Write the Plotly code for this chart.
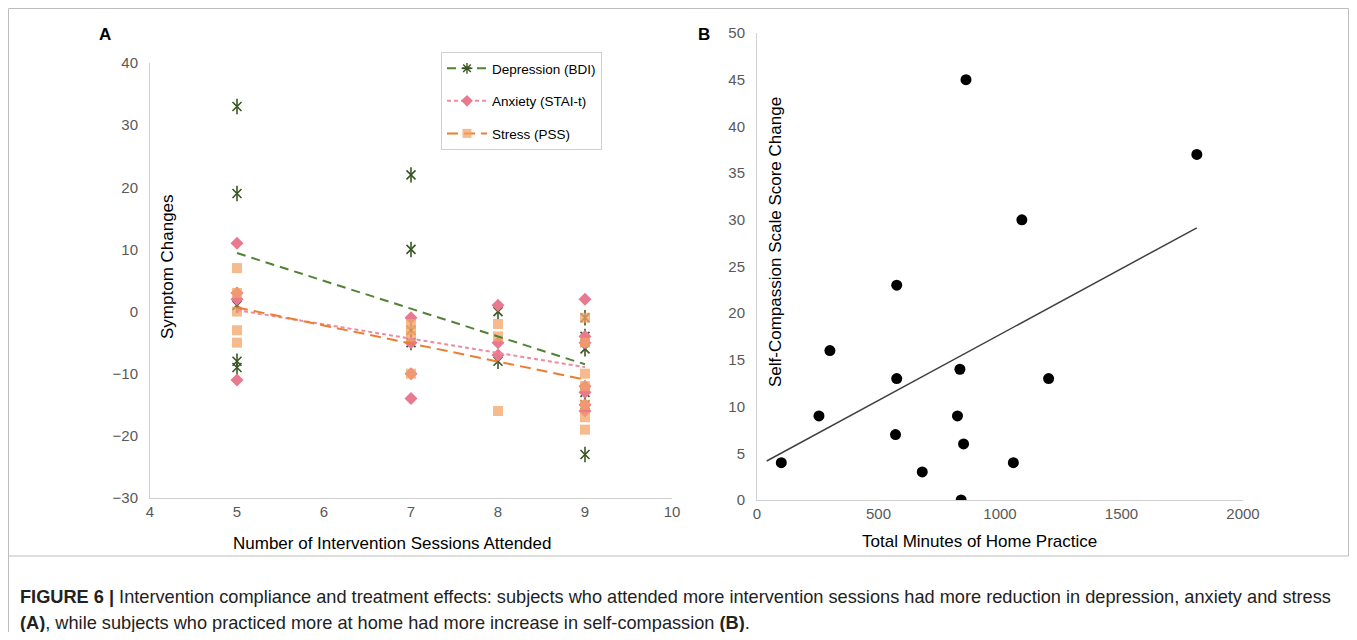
import numpy as np
import plotly.graph_objects as go

# ---------------- data ----------------
dep_sessions = [5, 5, 5, 5, 5, 7, 7, 7, 7, 8, 8, 9, 9, 9, 9, 9, 9]
dep_values = [33, 19, 1, -8, -9, 22, 10, -3, -5, 0, -8, -1, -4, -6, -13, -15, -23]
anx_sessions = [5, 5, 5, 5, 7, 7, 7, 7, 8, 8, 8, 9, 9, 9, 9, 9, 9, 9]
anx_values = [11, 3, 2, -11, -1, -5, -10, -14, 1, -5, -7, 2, -4, -5, -12, -13, -15, -16]
str_sessions = [5, 5, 5, 5, 5, 7, 7, 7, 7, 8, 8, 8, 9, 9, 9, 9, 9, 9, 9]
str_values = [7, 3, 0, -3, -5, -2, -3, -4, -10, -2, -4, -16, -1, -5, -10, -12, -15, -17, -19]

minutes = [100, 255, 300, 575, 575, 570, 680, 825, 835, 850, 840, 1055, 1200, 860, 1090, 1810]
scs_change = [4, 9, 16, 23, 13, 7, 3, 9, 14, 6, 0, 4, 13, 45, 30, 37]
trend_b_start = 40

a_xticks = [4, 5, 6, 7, 8, 9, 10]
a_yticks = [-30, -20, -10, 0, 10, 20, 30, 40]
b_xticks = [0, 500, 1000, 1500, 2000]
b_yticks = [0, 5, 10, 15, 20, 25, 30, 35, 40, 45, 50]

# page is 1357x640 with the default 8px body margin -> figure 1341x624 offset by 8
OFF = 8
W, H = 1357 - 2 * OFF, 640 - 2 * OFF
def px(x):
    return (x - OFF) / W
def py(y):
    return 1 - (y - OFF) / H

FONT = "Liberation Sans, Arial, sans-serif"
GREEN_M = "#385723"
GREEN_L = "#548235"
PINK = "#E8798F"
PINK_L = "#F08AA0"
ORANGE_M = "rgba(243,163,102,0.75)"
ORANGE_L = "#ED7D31"

def fit_line(xs, ys, x0, x1):
    k, b = np.polyfit(np.array(xs, float), np.array(ys, float), 1)
    xx = np.array([x0, x1], float)
    return xx, k * xx + b

fig = go.Figure()

# ---- Panel A markers ----
fig.add_trace(go.Scatter(x=dep_sessions, y=dep_values, mode="markers", showlegend=False,
                         marker=dict(symbol="x-thin-open", size=9, color=GREEN_M,
                                     line=dict(width=1.6, color=GREEN_M))))
fig.add_trace(go.Scatter(x=dep_sessions, y=dep_values, mode="markers", showlegend=False,
                         marker=dict(symbol="line-ns-open", size=11, color=GREEN_M,
                                     line=dict(width=1.6, color=GREEN_M))))
fig.add_trace(go.Scatter(x=anx_sessions, y=anx_values, mode="markers", showlegend=False,
                         marker=dict(symbol="diamond", size=10, color=PINK)))
fig.add_trace(go.Scatter(x=str_sessions, y=str_values, mode="markers", showlegend=False,
                         marker=dict(symbol="square", size=10, color=ORANGE_M)))

# ---- Panel A trend lines (least-squares fits of the data) ----
for xs, ys, col, dash in [
    (dep_sessions, dep_values, GREEN_L, "9px,6px"),
    (anx_sessions, anx_values, PINK_L, "4px,3px"),
    (str_sessions, str_values, ORANGE_L, "11px,6px"),
]:
    lx, ly = fit_line(xs, ys, min(xs), max(xs))
    fig.add_trace(go.Scatter(x=lx, y=ly, mode="lines", showlegend=False,
                             line=dict(color=col, width=2, dash=dash), hoverinfo="skip"))

# ---- legend-only entries ----
fig.add_trace(go.Scatter(x=[None], y=[None], mode="lines+markers", name="Depression (BDI)",
                         legendgroup="d", line=dict(color=GREEN_L, width=2, dash="9px,6px"),
                         marker=dict(symbol="asterisk-open", size=9, color=GREEN_M,
                                     line=dict(width=1.4, color=GREEN_M))))
fig.add_trace(go.Scatter(x=[None], y=[None], mode="lines+markers", name="Anxiety (STAI-t)",
                         legendgroup="a", line=dict(color=PINK_L, width=2, dash="4px,3px"),
                         marker=dict(symbol="diamond", size=9, color=PINK)))
fig.add_trace(go.Scatter(x=[None], y=[None], mode="lines+markers", name="Stress (PSS)",
                         legendgroup="s", line=dict(color=ORANGE_L, width=2, dash="11px,6px"),
                         marker=dict(symbol="square", size=9, color=ORANGE_M)))

# ---- Panel B ----
fig.add_trace(go.Scatter(x=minutes, y=scs_change, mode="markers", showlegend=False,
                         marker=dict(symbol="circle", size=11, color="#000000"),
                         xaxis="x2", yaxis="y2"))
lx, ly = fit_line(minutes, scs_change, trend_b_start, max(minutes))
fig.add_trace(go.Scatter(x=lx, y=ly, mode="lines", showlegend=False,
                         line=dict(color="#404040", width=1.5),
                         xaxis="x2", yaxis="y2", hoverinfo="skip"))

axis_common = dict(showgrid=False, zeroline=False, showline=True, linecolor="#D0D0D0",
                   linewidth=1, ticks="", automargin=False,
                   tickfont=dict(family=FONT, size=15, color="#595959"))

fig.update_layout(
    width=W, height=H, margin=dict(l=0, r=0, t=0, b=0, pad=0, autoexpand=False),
    paper_bgcolor="white", plot_bgcolor="white",
    font=dict(family=FONT, color="#000000"),
    xaxis=dict(domain=[px(150), px(672)], range=[4, 10], tickvals=a_xticks, anchor="y", **axis_common),
    yaxis=dict(domain=[py(498), py(63)], range=[-30, 40], tickvals=a_yticks, anchor="x",
               ticklabelstandoff=8, **axis_common),
    xaxis2=dict(domain=[px(757), px(1243)], range=[0, 2000], tickvals=b_xticks, anchor="y2", **axis_common),
    yaxis2=dict(domain=[py(500), py(33)], range=[0, 50], tickvals=b_yticks, anchor="x2",
                ticklabelstandoff=8, **axis_common),
    legend=dict(x=px(441), y=py(52), xanchor="left", yanchor="top",
                bordercolor="#D0D0D0", borderwidth=1, bgcolor="white",
                font=dict(family=FONT, size=13.5, color="#000000"), tracegroupgap=12, itemwidth=40),
)
fig.update_layout(shapes=[
    dict(type="rect", xref="paper", yref="paper", x0=px(8.5), x1=px(1348.5), y0=py(556),
         y1=py(8.5), line=dict(color="#BDBDBD", width=1)),
    dict(type="line", xref="paper", yref="paper", x0=px(8.5), x1=px(8.5), y0=0, y1=py(556),
         line=dict(color="#BDBDBD", width=1)),
])

def note(text, x, y, size, **kw):
    d = dict(text=text, x=px(x), y=py(y), xref="paper", yref="paper", showarrow=False,
             xanchor="center", yanchor="middle", font=dict(family=FONT, size=size))
    d.update(kw)
    return d

fig.update_layout(annotations=[
    note("<b>A</b>", 105, 35, 17),
    note("<b>B</b>", 704, 35, 17),
    note("Symptom Changes", 167, 267, 17, textangle=-90),
    note("Self-Compassion Scale Score Change", 775, 242, 17, textangle=-90),
    note("Number of Intervention Sessions Attended", 392, 543, 17),
    note("Total Minutes of Home Practice", 980, 541, 17),
    note("<b>FIGURE 6 |</b> Intervention compliance and treatment effects: subjects who attended more intervention sessions had more reduction in depression, anxiety and stress",
         18, 597, 18.2, xanchor="left", font=dict(family=FONT, size=18.2, color="#222222")),
    note("<b>(A)</b>, while subjects who practiced more at home had more increase in self-compassion <b>(B)</b>.",
         18, 623, 18.2, xanchor="left", font=dict(family=FONT, size=18.2, color="#222222")),
])

fig.write_html("out.html", config={"displayModeBar": False})
